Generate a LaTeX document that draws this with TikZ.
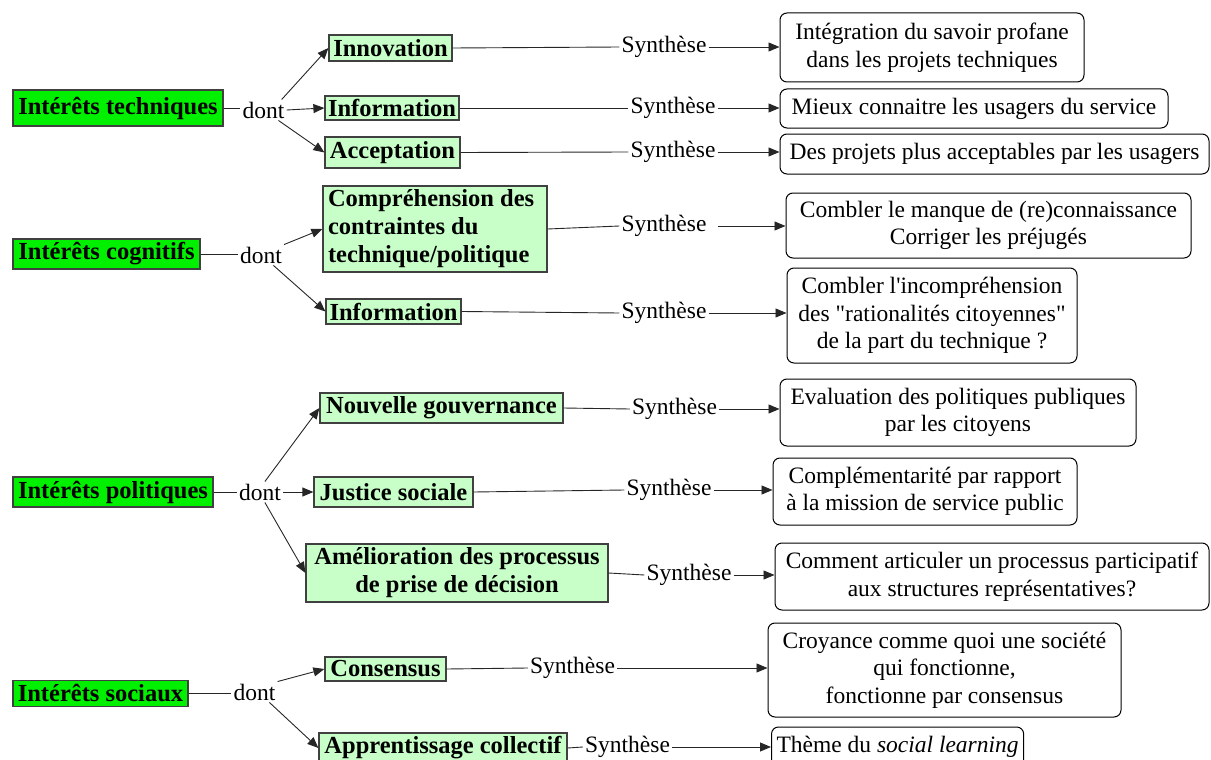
\documentclass[tikz,border=0pt]{standalone}
\usepackage{fontspec}
\setmainfont{Liberation Serif}[Ligatures=TeXOff]
\usetikzlibrary{arrows.meta}
\definecolor{vertvif}{HTML}{00F000}
\definecolor{vertpale}{HTML}{C8FFC8}
\definecolor{bordgris}{HTML}{404040}

\begin{document}
\begin{tikzpicture}[x=1pt,y=-1pt,
	every node/.style={font=\fontsize{23.5}{27.5}\selectfont, inner sep=2pt},
	interet/.style={draw=bordgris, fill=vertvif, line width=1.2pt, inner sep=0pt, font=\fontsize{24.5}{28}\selectfont\bfseries},
	sousint/.style={draw=bordgris, fill=vertpale, line width=1.2pt, inner sep=0pt, align=center, font=\fontsize{24.5}{28}\selectfont\bfseries},
	resultat/.style={draw, rounded corners=7pt, line width=1pt, inner sep=0pt, inner xsep=5pt, align=center},
	trait/.style={line width=0.9pt, draw=black!85},
	fleche/.style={trait, -{Triangle[length=11pt,width=9pt]}}]
	\clip (0,0) rectangle (1211,760);
	\node[interet, minimum width=210pt, minimum height=36pt] (tech) at (118,108) {Intérêts techniques};
	\node[interet, minimum width=187pt, minimum height=30pt] (cogn) at (106.5,254) {Intérêts cognitifs};
	\node[interet, minimum width=200pt, minimum height=30pt] (poli) at (113,492) {Intérêts politiques};
	\node[interet, minimum width=175pt, minimum height=26pt] (soci) at (100.5,693.5) {Intérêts sociaux};
	\node (dtech) at (263.5,110) {dont};
	\node (dcogn) at (261,255) {dont};
	\node (dpoli) at (260,492) {dont};
	\node (dsoci) at (254.5,692) {dont};
	\node[sousint, minimum width=123pt, minimum height=26pt] (inno) at (390.5,48) {Innovation};
	\node[sousint, minimum width=134pt, minimum height=24pt] (info) at (392,108) {Information};
	\node[sousint, minimum width=135pt, minimum height=31pt] (acce) at (392.5,152.5) {Acceptation};
	\node[sousint, minimum width=224pt, minimum height=86pt, text width=214pt, align=flush left] (comp) at (435,229) {Compréhension des\\contraintes du\\technique/politique};
	\node[sousint, minimum width=135pt, minimum height=25pt] (infob) at (393.5,311.5) {Information};
	\node[sousint, minimum width=243pt, minimum height=30pt] (gouv) at (441.5,408) {Nouvelle gouvernance};
	\node[sousint, minimum width=159pt, minimum height=30pt] (just) at (393.5,492) {Justice sociale};
	\node[sousint, minimum width=302pt, minimum height=58pt] (amel) at (457,573) {Amélioration des processus\\de prise de décision};
	\node[sousint, minimum width=121pt, minimum height=24pt] (cons) at (385.5,669) {Consensus};
	\node[sousint, minimum width=248pt, minimum height=30pt] (appr) at (443,748) {Apprentissage collectif};
	\node (sinno) at (664,47) {Synthèse};
	\node (sinfo) at (673,108) {Synthèse};
	\node (sacce) at (673,152) {Synthèse};
	\node (scomp) at (664,226) {Synthèse};
	\node (sinfob) at (664,313) {Synthèse};
	\node (sgouv) at (674.5,409) {Synthèse};
	\node (sjust) at (669,490) {Synthèse};
	\node (samel) at (689,575) {Synthèse};
	\node (scons) at (572.5,668) {Synthèse};
	\node (sappr) at (627.5,747) {Synthèse};
	\node[resultat, minimum width=304pt, minimum height=69pt] (rinno) at (932,47.5) {Intégration du savoir profane\\dans les projets techniques};
	\node[resultat, minimum width=388pt, minimum height=39pt] (rinfo) at (974,108.5) {Mieux connaitre les usagers du service};
	\node[resultat, minimum width=429pt, minimum height=40pt] (racce) at (994.5,154) {Des projets plus acceptables par les usagers};
	\node[resultat, minimum width=405pt, minimum height=65pt] (rcomp) at (988.5,225.5) {Combler le manque de (re)connaissance\\Corriger les préjugés};
	\node[resultat, minimum width=290pt, minimum height=95pt] (rinfob) at (932,315.5) {Combler l'incompréhension\\des "rationalités citoyennes"\\de la part du technique ?};
	\node[resultat, minimum width=356pt, minimum height=67pt] (rgouv) at (958,412.5) {Evaluation des politiques publiques\\par les citoyens};
	\node[resultat, minimum width=304pt, minimum height=67pt] (rjust) at (925,491.5) {Complémentarité par rapport\\à la mission de service public};
	\node[resultat, minimum width=434pt, minimum height=67pt] (ramel) at (992,576.5) {Comment articuler un processus participatif\\aux structures représentatives?};
	\node[resultat, minimum width=353pt, minimum height=94pt] (rcons) at (944.5,670) {Croyance comme quoi une société\\qui fonctionne,\\fonctionne par consensus};
	\node[resultat, minimum width=240pt, minimum height=40pt, anchor=west] (rappr) at (771,747) {Thème du \textit{social learning}};
	\draw[trait] (tech.east) -- (tech.east -| dtech.west);
	\draw[trait] (cogn.east) -- (cogn.east -| dcogn.west);
	\draw[trait] (poli.east) -- (poli.east -| dpoli.west);
	\draw[trait] (soci.east) -- (soci.east -| dsoci.west);
	\draw[fleche] (dtech.30) -- (inno.west);
	\draw[fleche] (dtech.east) -- (info.west);
	\draw[fleche] (dtech.-35) -- (acce.west);
	\draw[fleche] (dcogn.north east) -- (comp.west);
	\draw[fleche] (dcogn.-40) -- (infob.west);
	\draw[fleche] (dpoli.65) -- (gouv.west);
	\draw[fleche] (dpoli.east) -- (just.west);
	\draw[fleche] (dpoli.-65) -- (amel.west);
	\draw[fleche] (dsoci.north east) -- (cons.west);
	\draw[fleche] (dsoci.-35) -- (appr.west);
	\draw[trait] (inno.east) -- (sinno.west);
	\draw[trait] (info.east) -- (sinfo.west);
	\draw[trait] (acce.east) -- (sacce.west);
	\draw[trait] (comp.east) -- (scomp.west);
	\draw[trait] (infob.east) -- (sinfob.west);
	\draw[trait] (gouv.east) -- (sgouv.west);
	\draw[trait] (just.east) -- (sjust.west);
	\draw[trait] (amel.east) -- (samel.west);
	\draw[trait] (cons.east) -- (scons.west);
	\draw[trait] (appr.east) -- (sappr.west);
	\draw[fleche] (sinno.east) -- (sinno.east -| rinno.west);
	\draw[fleche] (sinfo.east) -- (sinfo.east -| rinfo.west);
	\draw[fleche] (sacce.east) -- (sacce.east -| racce.west);
	\draw[fleche, shorten <=9pt] (scomp.east) -- (scomp.east -| rcomp.west);
	\draw[fleche] (sinfob.east) -- (sinfob.east -| rinfob.west);
	\draw[fleche] (sgouv.east) -- (sgouv.east -| rgouv.west);
	\draw[fleche] (sjust.east) -- (sjust.east -| rjust.west);
	\draw[fleche] (samel.east) -- (samel.east -| ramel.west);
	\draw[fleche] (scons.east) -- (scons.east -| rcons.west);
	\draw[fleche] (sappr.east) -- (sappr.east -| rappr.west);
\end{tikzpicture}
\end{document}
